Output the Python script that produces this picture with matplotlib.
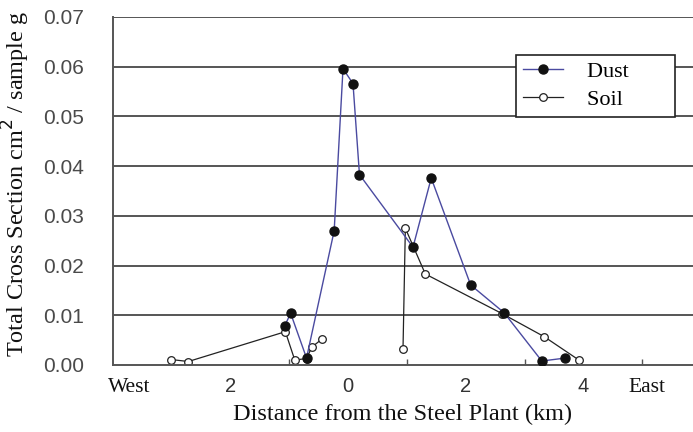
import numpy as np
import matplotlib
matplotlib.use('Agg')
import matplotlib.pyplot as plt

# Dust samples (km from plant, west negative) and total cross section
dust_x = [-1.08, -0.98, -0.71, -0.24, -0.09, 0.08, 0.19, 1.10, 1.41, 2.08, 2.65, 3.29, 3.69]
dust_y = [0.0079, 0.0104, 0.0014, 0.0270, 0.0596, 0.0566, 0.0383, 0.0237, 0.0376, 0.0161, 0.0105, 0.0008, 0.0014]

# Soil samples, west and east transects are drawn as separate lines
soil_west_x = [-3.01, -2.72, -1.07, -0.91, -0.71, -0.62, -0.45]
soil_west_y = [0.0011, 0.0007, 0.0067, 0.0010, 0.0013, 0.0036, 0.0052]
soil_east_x = [0.93, 0.97, 1.31, 2.62, 3.33, 3.92]
soil_east_y = [0.0032, 0.0275, 0.0183, 0.0103, 0.0057, 0.0010]

tick_pos = [-3.72, -2, 0, 2, 4, 5.08]
tick_lab = ['West', '2', '0', '2', '4', 'East']

serif = ['Liberation Serif', 'DejaVu Serif']
sans = ['Liberation Sans', 'DejaVu Sans']

fig = plt.figure(figsize=(6.93, 4.32), dpi=100)
ax = fig.add_axes([113 / 693, 1 - 365 / 432, 580 / 693, 348 / 432])

grid_c = '#555555'
for v in np.arange(0.01, 0.071, 0.01):
    ax.axhline(v, color=grid_c, lw=1.4, zorder=1)

h_dust, = ax.plot(dust_x, dust_y, color='#4a4aa0', lw=1.0, marker='o', ms=6.5,
                  mfc='#111111', mec='#111111', zorder=3)
h_soil, = ax.plot(soil_west_x, soil_west_y, color='#222222', lw=0.9, marker='o',
                  ms=5.5, mfc='white', mec='#222222', mew=0.9, zorder=2)
ax.plot(soil_east_x, soil_east_y, color='#222222', lw=0.9, marker='o', ms=5.5,
        mfc='white', mec='#222222', mew=0.9, zorder=2)

ax.set_xlim(-4.0, 5.86)
ax.set_ylim(0, 0.07)

for s in ['top', 'right']:
    ax.spines[s].set_visible(False)
for s in ['left', 'bottom']:
    ax.spines[s].set_color(grid_c)
    ax.spines[s].set_linewidth(1.4)

ax.set_yticks(np.arange(0, 0.071, 0.01))
ax.set_yticklabels(['%.2f' % v for v in np.arange(0, 0.071, 0.01)],
                   family=sans, fontsize=15, color='#4a4a4a')
ax.tick_params(axis='y', length=0, pad=21)

ax.set_xticks(tick_pos)
ax.set_xticklabels(tick_lab, fontsize=14.5, color='#333333')
for lab in ax.get_xticklabels():
    if lab.get_text() in ('West', 'East'):
        lab.set_family(serif)
        lab.set_fontsize(15.5)
        lab.set_color('#111111')
    else:
        lab.set_family(sans)
ax.tick_params(axis='x', length=0, pad=9)
ax.set_xticks(np.arange(-3, 6, 1), minor=True)
ax.tick_params(axis='x', which='minor', direction='in', length=4,
               width=1.0, color=grid_c)

ax.set_xlabel('Distance from the Steel Plant (km)', family=serif,
              fontsize=17.5, color='#111111', labelpad=5)
ax.set_ylabel('Total Cross Section cm$^2$ / sample g', family=serif,
              fontsize=17.5, color='#111111')
ax.yaxis.set_label_coords(-0.14, 0.52)

leg = ax.legend([h_dust, h_soil], ['Dust       ', 'Soil       '], loc='upper left',
                bbox_to_anchor=(0.695, 0.892),
                prop={'family': serif, 'size': 16}, frameon=True,
                fancybox=False, edgecolor='#222222', framealpha=1,
                borderpad=0.3, labelspacing=0.35, handlelength=1.8,
                handletextpad=1.1, borderaxespad=0)
leg.get_frame().set_linewidth(1.2)

fig.savefig('out.png', dpi=100)
